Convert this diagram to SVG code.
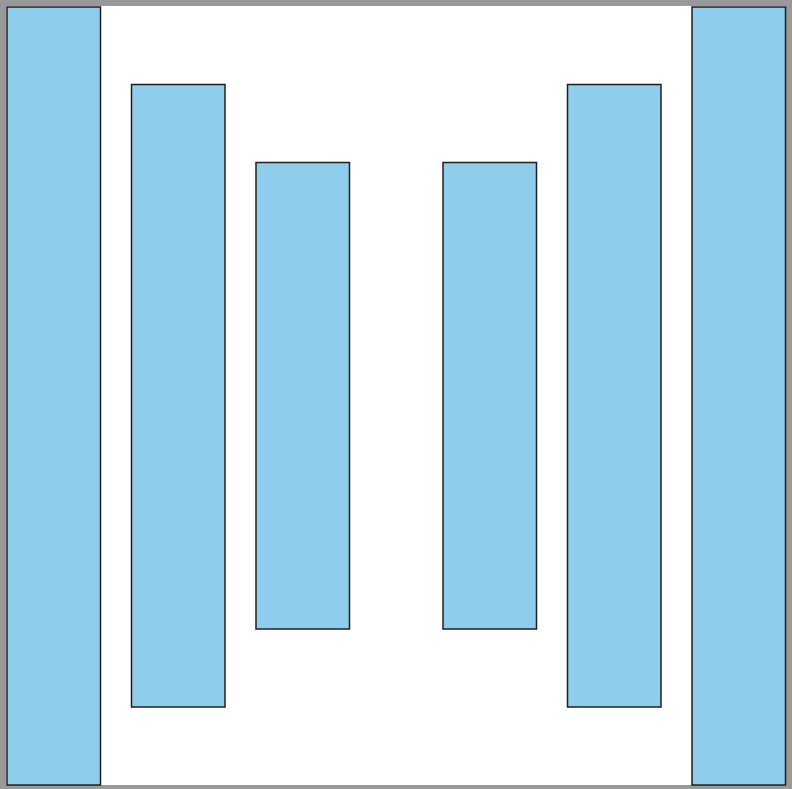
<svg xmlns="http://www.w3.org/2000/svg" width="792" height="789" viewBox="0 0 792 789">
<style>
.bar{fill:#8ECDEB;stroke:#1f1f1f;stroke-width:1.5}
</style>
<rect x="0" y="0" width="792" height="789" fill="#999999"/>
<rect x="6" y="6" width="780" height="779" fill="#ffffff"/>
<g id="bar1"><rect class="bar" x="7" y="7" width="93.5" height="778"/></g>
<g id="bar2"><rect class="bar" x="131.5" y="84.5" width="93.5" height="622.5"/></g>
<g id="bar3"><rect class="bar" x="256" y="162.5" width="93.5" height="466.5"/></g>
<g id="bar4"><rect class="bar" x="443" y="162.5" width="93.5" height="466.5"/></g>
<g id="bar5"><rect class="bar" x="567.5" y="84.5" width="93.5" height="622.5"/></g>
<g id="bar6"><rect class="bar" x="692" y="7" width="93.5" height="778"/></g>
<g id="connectors"></g>
</svg>
